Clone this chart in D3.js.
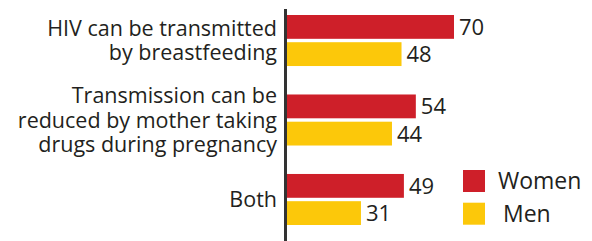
<!DOCTYPE html>
<html lang="en">
<head>
    <meta charset="UTF-8">
    <title>HIV transmission knowledge</title>
    <script src="https://d3js.org/d3.v7.min.js"></script>
    <style>
        body { margin: 0; background: #fff; }
        text { font-family: "Open Sans", Lato, sans-serif; fill: #231f20; }
    </style>
</head>
<body>
<div id="chart"></div>
<script>

    // data
    var categories = [
        ["HIV can be transmitted", "by breastfeeding"],
        ["Transmission can be", "reduced by mother taking", "drugs during pregnancy"],
        ["Both"]
    ];
    var series = ["Women", "Men"];
    var women = [70, 54, 49];
    var men = [48, 44, 31];
    var colors = ["#ce1f29", "#fcc80a"];

    var width = 592, height = 241;

    var svg = d3.select("#chart").append("svg")
        .attr("width", width)
        .attr("height", height);

    var groupKeys = categories.map(function (c, i) { return i; });

    var y0 = d3.scaleBand().domain(groupKeys).range([15, 225]).paddingInner(0.358);
    var y1 = d3.scaleBand().domain(series).range([0, y0.bandwidth()]).paddingInner(0.125);
    var x = d3.scaleLinear().domain([0, 70]).range([287, 454]);

    var rows = [];
    groupKeys.forEach(function (g) {
        rows.push({group: g, series: "Women", value: women[g], color: colors[0]});
        rows.push({group: g, series: "Men", value: men[g], color: colors[1]});
    });

    // bars
    svg.selectAll("rect.bar").data(rows).enter().append("rect")
        .attr("class", "bar")
        .attr("x", x(0))
        .attr("y", function (d) { return y0(d.group) + y1(d.series); })
        .attr("width", function (d) { return x(d.value) - x(0); })
        .attr("height", y1.bandwidth())
        .attr("fill", function (d) { return d.color; });

    // value labels
    svg.selectAll("text.val").data(rows).enter().append("text")
        .attr("class", "val")
        .attr("x", function (d) { return x(d.value) + 5; })
        .attr("y", function (d) { return y0(d.group) + y1(d.series) + y1.bandwidth() / 2; })
        .attr("dy", "0.36em")
        .style("font-size", "22px")
        .text(function (d) { return d.value; });

    // category labels, right aligned against the axis
    var lineH = 24.4;
    var lab = svg.selectAll("text.cat").data(categories).enter().append("text")
        .attr("class", "cat")
        .attr("text-anchor", "end")
        .style("font-size", "21.5px");
    lab.each(function (lines, g) {
        var mid = y0(g) + y0.bandwidth() / 2;
        d3.select(this).selectAll("tspan").data(lines).enter().append("tspan")
            .attr("x", 277)
            .attr("y", function (l, i) { return mid + (i - (lines.length - 1) / 2) * lineH; })
            .attr("dy", "0.36em")
            .text(function (l) { return l; });
    });

    // axis line
    svg.append("line")
        .attr("x1", 285.5).attr("x2", 285.5)
        .attr("y1", 9).attr("y2", height)
        .attr("stroke", "#333")
        .attr("stroke-width", 3);

    // legend
    var legend = svg.selectAll("g.legend").data(series).enter().append("g")
        .attr("class", "legend")
        .attr("transform", function (d, i) { return "translate(463," + (170 + i * 32.7) + ")"; });
    legend.append("rect")
        .attr("width", 22).attr("height", 22)
        .attr("fill", function (d, i) { return colors[i]; });
    legend.append("text")
        .attr("x", function (d, i) { return i === 0 ? 35 : 40; })
        .attr("y", 11)
        .attr("dy", "0.36em")
        .style("font-size", "23px")
        .text(function (d) { return d; });

</script>
</body>
</html>
